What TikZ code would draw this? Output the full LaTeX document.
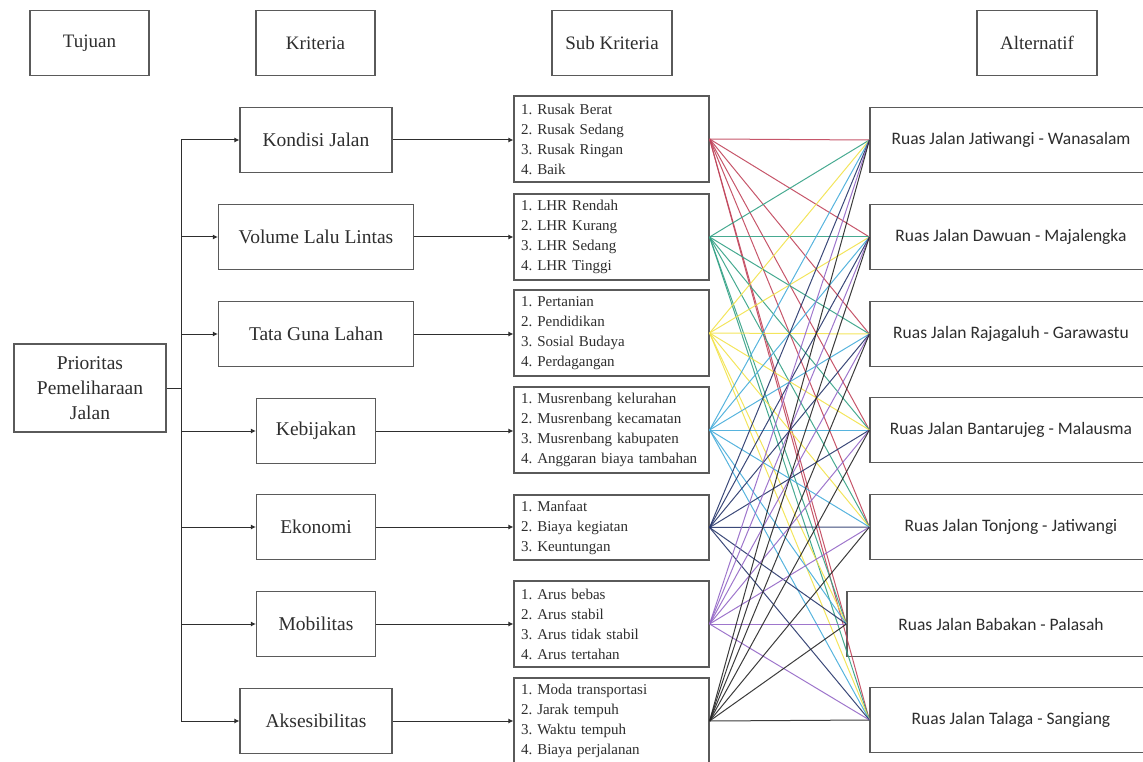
\documentclass[tikz,border=0pt]{standalone}
\usepackage{xcolor}
\usepackage{fontspec}
\setmainfont{Liberation Serif}
\newfontfamily\calibri{Carlito}
\usepackage{tikz}
\usetikzlibrary{arrows.meta}
\definecolor{garisbox}{HTML}{5A5A5A}
\definecolor{teksgelap}{HTML}{2E2E2E}
\definecolor{jalurmerah}{HTML}{C0445A}
\definecolor{jalurhijau}{HTML}{33A185}
\definecolor{jalurkuning}{HTML}{F2E24A}
\definecolor{jalurbiru}{HTML}{45ACDA}
\definecolor{jalurnavy}{HTML}{26356A}
\definecolor{jalurungu}{HTML}{9467C6}
\definecolor{jalurhitam}{HTML}{262626}
\frenchspacing

\begin{document}
\begin{tikzpicture}[x=1pt, y=-1pt,
    kotak/.style={draw=garisbox, line width=1.2pt, fill=white, text=teksgelap,
                  inner sep=0pt, minimum height=65pt, align=center,
                  font=\rmfamily\fontsize{19.5}{25}\selectfont},
    kotakjudul/.style={kotak, minimum width=119pt, font=\rmfamily\fontsize{19}{23}\selectfont},
    kotaksub/.style={kotak, minimum width=195pt, minimum height=86pt, align=left,
                  text width=181pt, font=\rmfamily\fontsize{15}{20}\selectfont},
    kotakalt/.style={kotak, minimum width=282pt, font=\calibri\fontsize{17.5}{21}\selectfont},
    panah/.style={draw=teksgelap, line width=1pt, -{Latex[length=5pt,width=5pt]}},
    garis/.style={line width=1pt, opacity=0.9}]
  \useasboundingbox (0,0) rectangle (1143,762);

  % judul kolom
  \node[kotakjudul] (tujuan) at (89.5,43) {Tujuan};
  \node[kotakjudul] (kriteria) at (315.5,43) {Kriteria};
  \node[kotakjudul, minimum width=120pt] (subkriteria) at (612,43) {Sub Kriteria};
  \node[kotakjudul, minimum width=120pt] (alternatif) at (1037,43) {Alternatif};

  % tujuan
  \node[kotak, minimum width=152pt, minimum height=88pt] (prioritas) at (90,388) {Prioritas\\Pemeliharaan\\Jalan};
  \coordinate (cabang) at (181,388);

  % kriteria
  \node[kotak, minimum width=152pt] (k1) at (316,140) {Kondisi Jalan};
  \node[kotak, minimum width=195pt] (k2) at (316,237) {Volume Lalu Lintas};
  \node[kotak, minimum width=195pt] (k3) at (316,334) {Tata Guna Lahan};
  \node[kotak, minimum width=119pt] (k4) at (316,431) {Kebijakan};
  \node[kotak, minimum width=119pt] (k5) at (316,527) {Ekonomi};
  \node[kotak, minimum width=119pt] (k6) at (316,624) {Mobilitas};
  \node[kotak, minimum width=152pt] (k7) at (316,721) {Aksesibilitas};

  % sub kriteria
  \node[kotaksub] (sub1) at (611.5,139) {1. Rusak Berat\\2. Rusak Sedang\\3. Rusak Ringan\\4. Baik};
  \node[kotaksub] (sub2) at (611.5,237) {1. LHR Rendah\\2. LHR Kurang\\3. LHR Sedang\\4. LHR Tinggi};
  \node[kotaksub] (sub3) at (611.5,333) {1. Pertanian\\2. Pendidikan\\3. Sosial Budaya\\4. Perdagangan};
  \node[kotaksub] (sub4) at (611.5,430) {1. Musrenbang kelurahan\\2. Musrenbang kecamatan\\3. Musrenbang kabupaten\\4. Anggaran biaya tambahan};
  \node[kotaksub, minimum height=65pt] (sub5) at (611.5,527.5) {1. Manfaat\\2. Biaya kegiatan\\3. Keuntungan};
  \node[kotaksub] (sub6) at (611.5,624) {1. Arus bebas\\2. Arus stabil\\3. Arus tidak stabil\\4. Arus tertahan};
  \node[kotaksub] (sub7) at (611.5,721) {1. Moda transportasi\\2. Jarak tempuh\\3. Waktu tempuh\\4. Biaya perjalanan};

  % alternatif
  \node[kotakalt] (alt1) at (1011,140) {Ruas Jalan Jatiwangi - Wanasalam};
  \node[kotakalt] (alt2) at (1011,237) {Ruas Jalan Dawuan - Majalengka};
  \node[kotakalt] (alt3) at (1011,334) {Ruas Jalan Rajagaluh - Garawastu};
  \node[kotakalt] (alt4) at (1011,430) {Ruas Jalan Bantarujeg - Malausma};
  \node[kotakalt] (alt5) at (1011,527) {Ruas Jalan Tonjong - Jatiwangi};
  \node[kotakalt, minimum width=308pt] (alt6) at (1001,624) {Ruas Jalan Babakan - Palasah};
  \node[kotakalt] (alt7) at (1011,720) {Ruas Jalan Talaga - Sangiang};

  % cabang tujuan ke kriteria
  \draw[draw=teksgelap, line width=1pt] (prioritas.east) -- (cabang);
  \draw[draw=teksgelap, line width=1pt] (cabang |- k1.west) -- (cabang |- k7.west);
  \foreach \k in {1,...,7}{
    \draw[panah] (cabang |- k\k.west) -- (k\k.west);
    \draw[panah] (k\k.east) -- (k\k.east -| sub\k.west);
  }

  % sub kriteria ke alternatif
  \foreach \s/\warna in {1/jalurmerah, 2/jalurhijau, 3/jalurkuning, 4/jalurbiru,
                         5/jalurnavy, 6/jalurungu, 7/jalurhitam}{
    \foreach \t in {1,...,7}{
      \draw[garis, \warna] (sub\s.east) -- (alt\t.west);
    }
  }
\end{tikzpicture}
\end{document}
